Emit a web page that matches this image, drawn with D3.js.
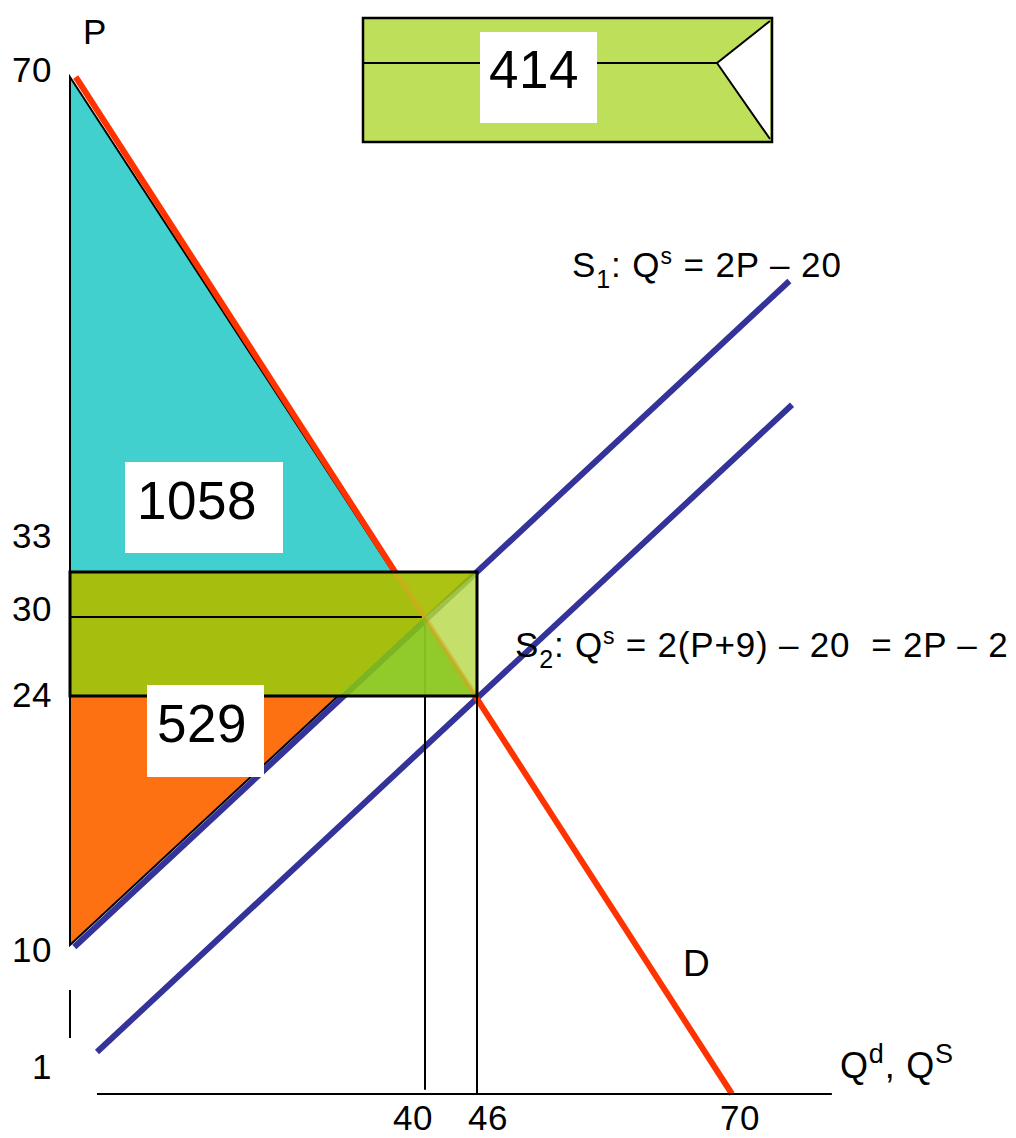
<!DOCTYPE html>
<html><head><meta charset="utf-8">
<script src="https://cdn.jsdelivr.net/npm/d3@7"></script>
<style>
body{margin:0;background:#fff}
svg{display:block}
text{font-family:"Liberation Sans",Arial,Helvetica,sans-serif;fill:#000;white-space:pre}
</style>
</head><body>
<svg id="chart" width="1016" height="1138"></svg>
<script>
// ---------------- data ----------------
const priceTicks = [70, 33, 30, 24, 10, 1];
const quantityTicks = [40, 46, 70];
// demand  Qd = 70 - P  (drawn endpoints, Q,P)
const demandLine = [[0.6, 70], [70, 0]];
// supply S1: Qs = 2P - 20 (schematic drawn endpoints)
const supply1Line = [[0.45, 9.85], [75.4, 54.75]];
// supply S2: Qs = 2P - 2 (schematic drawn endpoints)
const supply2Line = [[2.82, 2.04], [75.65, 45.5]];
const equilibrium = [40, 30];
const subsidised = [46, 24];
const supplierPrice = 33;
const consumerSurplusArea = [[0, 70], [0, 33], [37, 33]];
const producerSurplusArea = [[0, 24], [0, 10], [28, 24]];
const subsidyRect = [[0, 33], [46, 33], [46, 24], [0, 24]];
const lowerTriangle = [[28, 24], [40, 30], [46, 24]];
const rightTriangle = [[40, 30], [46, 33], [46, 24]];
const upperTriangle = [[37, 33], [46, 33], [40, 30]];
const areaValues = {cs: 1058, ps: 529, subsidy: 414};
const yAxisSegments = [[[0, 70], [0, 10]], [[0, 6.65], [0, 3.08]]];
const xAxisLine = [[2.82, 0], [79.4, 0]];

// ---------------- scales (schematic, piecewise) ----------------
const x = d3.scaleLinear().domain([0, 28, 37, 40, 46, 70]).range([70, 338, 393, 425, 477, 732]);
const y = d3.scaleLinear().domain([0, 1, 10, 24, 30, 33, 70]).range([1094, 1066, 945, 696, 617, 572, 77]);

const svg = d3.select("#chart");
const line = d3.line().x(d => x(d[0])).y(d => y(d[1]));
const poly = pts => line(pts) + "Z";

const C = {
  cyan: "#42d0cf", orange: "#fe7112", olive: "#a6bf0f", lower: "#90cb2b",
  right: "#c4e06a", upper: "#adc313", legend: "#bedf5a", blue: "#333399", red: "#ff3300"
};

// surplus triangles
svg.append("path").attr("d", poly(consumerSurplusArea)).attr("fill", C.cyan)
  .attr("stroke", "#000").attr("stroke-width", 2).attr("stroke-linejoin", "miter");
svg.append("path").attr("d", poly(producerSurplusArea)).attr("fill", C.orange)
  .attr("stroke", "#000").attr("stroke-width", 2);

// curves
svg.append("path").attr("d", line(supply2Line)).attr("stroke", C.blue).attr("stroke-width", 6).attr("fill", "none");
svg.append("path").attr("d", line(supply1Line)).attr("stroke", C.blue).attr("stroke-width", 6).attr("fill", "none");
svg.append("path").attr("d", line(demandLine)).attr("stroke", C.red).attr("stroke-width", 6).attr("fill", "none");

// subsidy rectangle and inner regions
svg.append("path").attr("d", poly(subsidyRect)).attr("fill", C.olive);
svg.append("path").attr("d", poly(lowerTriangle)).attr("fill", C.lower);
svg.append("path").attr("d", poly(rightTriangle)).attr("fill", C.right);
svg.append("path").attr("d", poly(upperTriangle)).attr("fill", C.upper);

// faint curves seen through rectangle
const clip = svg.append("clipPath").attr("id", "rectClip");
clip.append("path").attr("d", poly(subsidyRect));
const g = svg.append("g").attr("clip-path", "url(#rectClip)");
g.append("path").attr("d", line(supply1Line)).attr("stroke", "#5a8a10").attr("stroke-opacity", 0.35).attr("stroke-width", 6).attr("fill", "none");
g.append("path").attr("d", line(demandLine)).attr("stroke", "#e0a020").attr("stroke-opacity", 0.45).attr("stroke-width", 6).attr("fill", "none");
g.append("path").attr("d", line([equilibrium, [equilibrium[0], subsidised[1]]])).attr("stroke", "#86bc22").attr("stroke-width", 2);

svg.append("path").attr("d", poly(subsidyRect)).attr("fill", "none").attr("stroke", "#000").attr("stroke-width", 3);

// guide lines
svg.append("path").attr("d", line([[0, equilibrium[1]], [equilibrium[0] - 0.3, equilibrium[1]]])).attr("stroke", "#000").attr("stroke-width", 2);
svg.append("path").attr("d", line([[equilibrium[0], subsidised[1]], [equilibrium[0], 0.15]])).attr("stroke", "#000").attr("stroke-width", 2);
svg.append("path").attr("d", line([[subsidised[0], supplierPrice], [subsidised[0], 0]])).attr("stroke", "#000").attr("stroke-width", 2);

// axes
yAxisSegments.forEach(s => svg.append("path").attr("d", line(s)).attr("stroke", "#000").attr("stroke-width", 2));
svg.append("path").attr("d", line(xAxisLine)).attr("stroke", "#000").attr("stroke-width", 2);

// tick labels (baseline nudges are layout only)
const yNudge = {70: 5, 33: -24, 30: 4, 24: 11, 10: 17, 1: 13};
svg.append("g").selectAll("text").data(priceTicks).join("text")
  .attr("x", 52).attr("y", d => y(d) + yNudge[d]).attr("text-anchor", "end")
  .attr("font-size", 35).attr("letter-spacing", 0.5).text(d => d);
const xNudge = {40: -12, 46: 11, 70: 8};
svg.append("g").selectAll("text").data(quantityTicks).join("text")
  .attr("x", d => x(d) + xNudge[d]).attr("y", 1130).attr("text-anchor", "middle")
  .attr("font-size", 35).attr("letter-spacing", 0.5).text(d => d);

// axis titles
svg.append("text").attr("x", 83).attr("y", 44).attr("font-size", 35).text("P");
const qt = svg.append("text").attr("x", 840).attr("y", 1078).attr("font-size", 36).attr("letter-spacing", 0.8);
qt.append("tspan").text("Q");
qt.append("tspan").attr("font-size", 27).attr("dy", -15).text("d");
qt.append("tspan").attr("dy", 15).text(", Q");
qt.append("tspan").attr("font-size", 27).attr("dy", -15).text("S");
svg.append("text").attr("x", 683).attr("y", 976).attr("font-size", 37).text("D");

// supply labels
const s1 = svg.append("text").attr("x", 572).attr("y", 277).attr("font-size", 35).attr("letter-spacing", 0.9);
s1.append("tspan").text("S");
s1.append("tspan").attr("font-size", 25).attr("dy", 11).text("1");
s1.append("tspan").attr("dy", -11).text(": Q");
s1.append("tspan").attr("font-size", 23).attr("dy", -13).text("s");
s1.append("tspan").attr("dy", 13).text(" = 2P – 20");

const s2 = svg.append("text").attr("x", 515).attr("y", 657).attr("font-size", 35).attr("letter-spacing", 0.8);
s2.append("tspan").text("S");
s2.append("tspan").attr("font-size", 25).attr("dy", 11).text("2");
s2.append("tspan").attr("dy", -11).text(": Q");
s2.append("tspan").attr("font-size", 23).attr("dy", -13).text("s");
s2.append("tspan").attr("dy", 13).text(" = 2(P+9) – 20  = 2P – 2");

// area value boxes
function valueBox(bx, by, bw, bh, tx, ty, val) {
  svg.append("rect").attr("x", bx).attr("y", by).attr("width", bw).attr("height", bh).attr("fill", "#fff");
  svg.append("text").attr("x", tx).attr("y", ty).attr("font-size", 53).attr("letter-spacing", 0.5).text(val);
}
valueBox(125, 462, 158, 91, 137, 519, areaValues.cs);
valueBox(147, 685, 117, 92, 157, 742, areaValues.ps);

// legend-like box for the subsidy
const L = {x0: 363, y0: 18, x1: 772, y1: 142, mid: 63, notch: 717};
svg.append("rect").attr("x", L.x0).attr("y", L.y0).attr("width", L.x1 - L.x0).attr("height", L.y1 - L.y0)
  .attr("fill", C.legend).attr("stroke", "#000").attr("stroke-width", 2.5);
svg.append("path").attr("d", `M${L.notch},${L.mid}L${L.x1 - 2},${L.y0 + 3}L${L.x1 - 2},${L.y1 - 3}Z`).attr("fill", "#fff");
svg.append("path").attr("d", `M${L.x0},${L.mid}H${L.notch}L${L.x1 - 2},${L.y0 + 3}M${L.notch},${L.mid}L${L.x1 - 2},${L.y1 - 3}`)
  .attr("fill", "none").attr("stroke", "#000").attr("stroke-width", 2);
valueBox(480, 32, 117, 91, 489, 88, areaValues.subsidy);
</script>
</body></html>
